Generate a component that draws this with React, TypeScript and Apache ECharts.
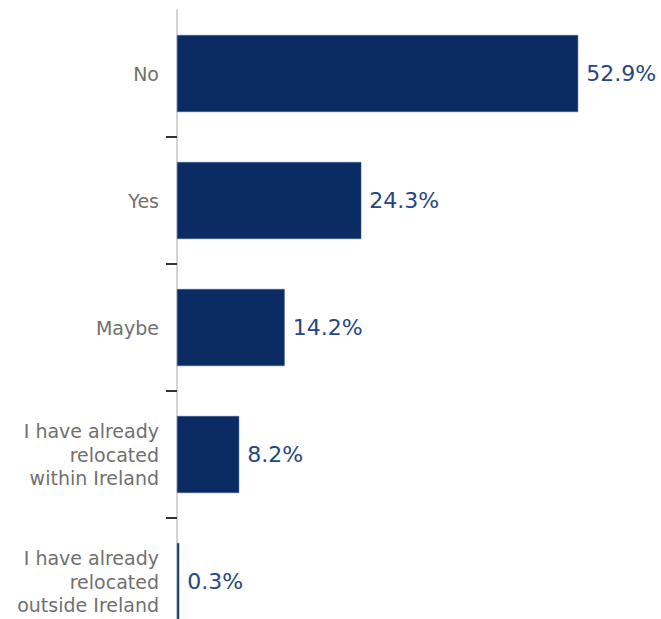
import React, { useEffect, useRef } from "react";
import * as echarts from "echarts";

const categories = [
  "No",
  "Yes",
  "Maybe",
  "I have already\nrelocated\nwithin Ireland",
  "I have already\nrelocated\noutside Ireland",
];
const values = [52.9, 24.3, 14.2, 8.2, 0.3];

export default function App() {
  const ref = useRef<HTMLDivElement>(null);
  useEffect(() => {
    const chart = echarts.init(ref.current!, null, { renderer: "svg" });
    chart.setOption({
      animation: false,
      grid: {
        left: 177,
        right: 29,
        top: 10,
        height: 635,
        containLabel: false,
        outerBoundsMode: "none",
      },
      xAxis: {
        type: "value",
        min: 0,
        max: 60,
        show: false,
      },
      yAxis: {
        type: "category",
        inverse: true,
        data: categories,
        axisLine: { show: true, lineStyle: { color: "#d4d4d4", width: 2 } },
        axisTick: {
          show: true,
          length: 11,
          interval: (index: number) => index !== 0,
          lineStyle: { color: "#333333", width: 2 },
        },
        axisLabel: {
          margin: 18,
          color: "#707070",
          fontSize: 19,
          lineHeight: 23.5,
          fontFamily: "DejaVu Sans",
          align: "right",
        },
        splitLine: { show: false },
      },
      series: [
        {
          type: "bar",
          data: values,
          barWidth: 77,
          itemStyle: { color: "#0a2c63", borderColor: "#3b5a90", borderWidth: 0.5 },
          label: {
            show: true,
            position: "right",
            distance: 8,
            formatter: (p: any) => p.value.toFixed(1) + "%",
            color: "#264683",
            fontSize: 22,
            fontFamily: "DejaVu Sans",
          },
        },
      ],
    });
    return () => chart.dispose();
  }, []);
  return (
    <div
      ref={ref}
      style={{ width: 661, height: 619, position: "absolute", left: 0, top: 0, background: "#fff" }}
    />
  );
}
